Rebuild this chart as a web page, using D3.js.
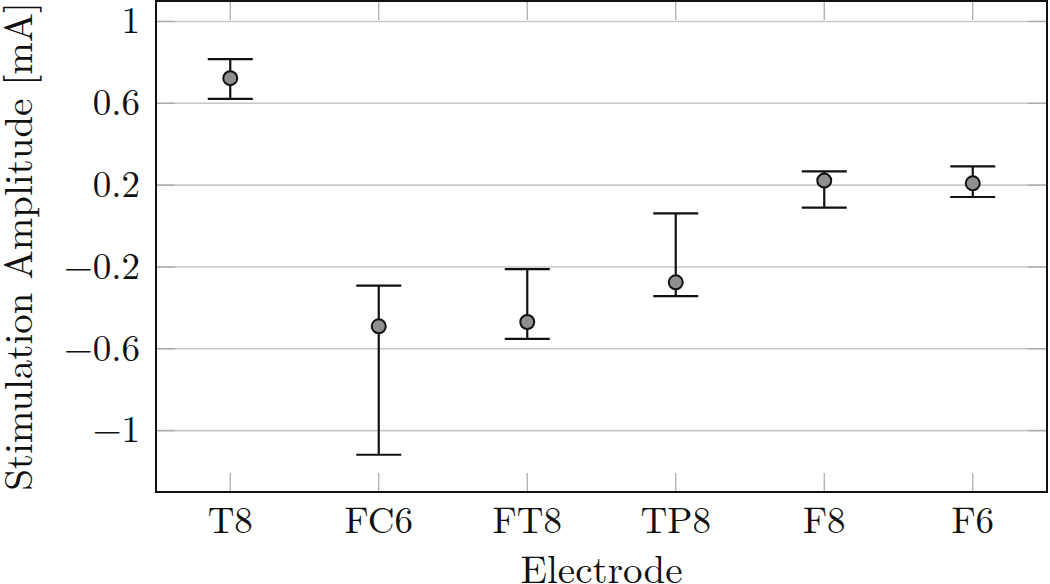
<!DOCTYPE html>
<html><head><meta charset="utf-8">
<script src="https://cdn.jsdelivr.net/npm/d3@7"></script>
<style>body{margin:0;background:#fff}svg{display:block}</style>
</head><body>
<svg id="c" width="1050" height="584"></svg>
<script>
const categories = ["T8","FC6","FT8","TP8","F8","F6"];
const means = [0.723, -0.49, -0.469, -0.275, 0.222, 0.209];
const upper = [0.816, -0.291, -0.211, 0.062, 0.267, 0.292];
const lower = [0.622, -1.118, -0.552, -0.343, 0.09, 0.142];
const yTicks = [-1, -0.6, -0.2, 0.2, 0.6, 1];
const yLabel = "Stimulation Amplitude [mA]";
const xLabel = "Electrode";

const svg = d3.select("#c");
const L = 156, R = 1047, T = 1, B = 492;
const font = "'Latin Modern Roman', 'Liberation Serif', serif";
const fsTick = 37, fsLab = 39;
const x = d3.scaleLinear().domain([-0.5, categories.length - 0.5]).range([L, R]);
const y = d3.scaleLinear().domain([-1.3, 1.1]).range([B, T]);
const data = categories.map((c, i) => ({c, i, m: means[i], u: upper[i], l: lower[i]}));

// gridlines
svg.append("g").selectAll("line").data(yTicks).join("line")
  .attr("x1", L).attr("x2", R).attr("y1", d => y(d)).attr("y2", d => y(d))
  .attr("stroke", "#c8c8c8").attr("stroke-width", 1.6);

// inner ticks
const tk = 19, tc = "#a8a8a8";
const g = svg.append("g").attr("stroke", tc).attr("stroke-width", 1.2);
g.selectAll(".yl").data(yTicks).join("line").attr("x1", L).attr("x2", L + tk).attr("y1", d => y(d)).attr("y2", d => y(d));
g.selectAll(".yr").data(yTicks).join("line").attr("class","yr").attr("x1", R - tk).attr("x2", R).attr("y1", d => y(d)).attr("y2", d => y(d));
g.selectAll(".xb").data(data).join("line").attr("class","xb").attr("x1", d => x(d.i)).attr("x2", d => x(d.i)).attr("y1", B).attr("y2", B - tk);
g.selectAll(".xt").data(data).join("line").attr("class","xt").attr("x1", d => x(d.i)).attr("x2", d => x(d.i)).attr("y1", T).attr("y2", T + tk);

// error bars
const eb = svg.append("g").attr("stroke", "#111").attr("stroke-width", 2.2).attr("fill", "none");
eb.selectAll(".v").data(data).join("line").attr("x1", d => x(d.i)).attr("x2", d => x(d.i)).attr("y1", d => y(d.u)).attr("y2", d => y(d.l));
eb.selectAll(".cu").data(data).join("line").attr("class","cu").attr("x1", d => x(d.i) - 22.5).attr("x2", d => x(d.i) + 22.5).attr("y1", d => y(d.u)).attr("y2", d => y(d.u));
eb.selectAll(".cl").data(data).join("line").attr("class","cl").attr("x1", d => x(d.i) - 22.5).attr("x2", d => x(d.i) + 22.5).attr("y1", d => y(d.l)).attr("y2", d => y(d.l));

svg.append("g").selectAll("circle").data(data).join("circle")
  .attr("cx", d => x(d.i)).attr("cy", d => y(d.m)).attr("r", 7)
  .attr("fill", "#8f8f8f").attr("stroke", "#111").attr("stroke-width", 2);

// frame
svg.append("rect").attr("x", L).attr("y", T).attr("width", R - L).attr("height", B - T)
  .attr("fill", "none").attr("stroke", "#111").attr("stroke-width", 2);

// labels
const fmt = v => (v < 0 ? "\u2212" : "") + Math.abs(v);
svg.append("g").selectAll("text").data(yTicks).join("text")
  .attr("x", 140).attr("y", d => y(d)).attr("dy", "0.32em").attr("text-anchor", "end")
  .attr("font-family", font).attr("font-size", fsTick).attr("fill", "#111").text(fmt);
svg.append("g").selectAll("text").data(data).join("text")
  .attr("x", d => x(d.i)).attr("y", 533).attr("text-anchor", "middle")
  .attr("font-family", font).attr("font-size", fsTick).attr("fill", "#111").text(d => d.c);
svg.append("text").attr("x", x(2.5)).attr("y", 583).attr("text-anchor", "middle")
  .attr("font-family", font).attr("font-size", fsLab).attr("fill", "#111").text(xLabel);
svg.append("text").attr("transform", `translate(32,${(T+B)/2}) rotate(-90)`).attr("text-anchor", "middle")
  .attr("font-family", font).attr("font-size", fsLab).attr("fill", "#111").text(yLabel);
</script>
</body></html>
